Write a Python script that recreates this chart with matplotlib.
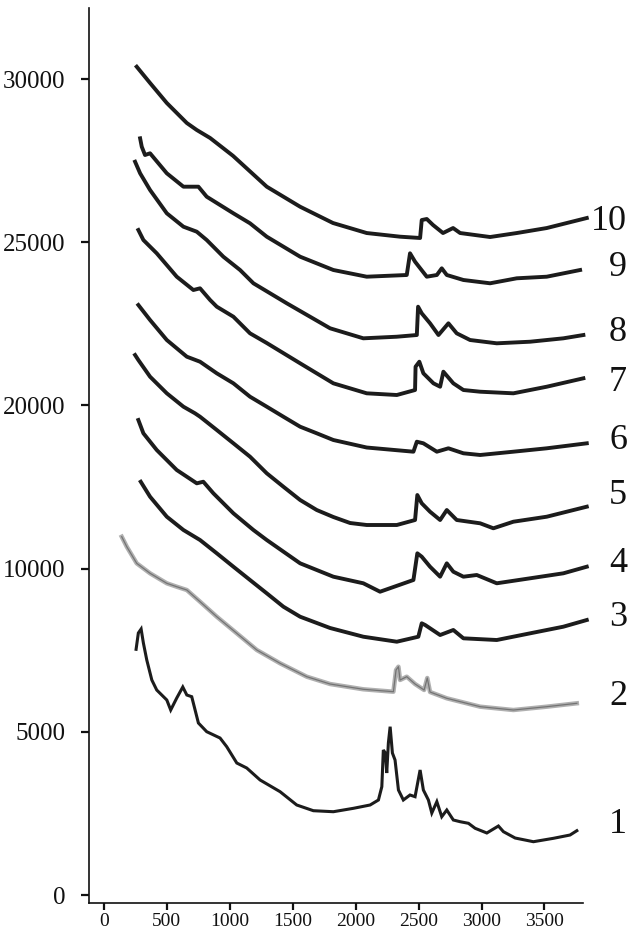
import matplotlib
matplotlib.use("Agg")
import matplotlib.pyplot as plt

# ---------------- data (wavenumber-like x, stacked intensity y) ----------------
x1 = [256, 274, 296, 314, 341, 381, 420, 500, 531, 579, 627, 659, 698, 751, 817, 923, 976,
      1056, 1135, 1241, 1400, 1532, 1664, 1823, 1982, 2115, 2181, 2208, 2220, 2236, 2247, 2260,
      2274, 2292, 2313, 2340, 2379, 2432, 2472, 2512, 2538, 2578, 2605, 2645, 2684, 2724, 2776,
      2830, 2896, 2949, 3042, 3134, 3174, 3267, 3412, 3571, 3703, 3757]
y1 = [7528, 8028, 8150, 7721, 7200, 6588, 6281, 5975, 5668, 6036, 6373, 6128, 6076, 5270, 5004,
      4810, 4544, 4044, 3891, 3524, 3165, 2758, 2583, 2552, 2656, 2758, 2911, 3318, 4443, 4351,
      3738, 4657, 5157, 4351, 4136, 3217, 2911, 3064, 3012, 3830, 3217, 2911, 2512, 2859, 2399,
      2604, 2298, 2246, 2197, 2044, 1900, 2114, 1940, 1746, 1633, 1737, 1838, 1970]

x2 = [142, 182, 261, 367, 500, 579, 659, 764, 897, 1056, 1215, 1400, 1612, 1797, 2061, 2300,
      2321, 2340, 2353, 2406, 2472, 2544, 2569, 2591, 2724, 2989, 3253, 3518, 3757]
y2 = [10978, 10672, 10163, 9857, 9551, 9446, 9345, 8987, 8527, 8018, 7507, 7099, 6689, 6465,
      6303, 6229, 6894, 6995, 6588, 6689, 6465, 6281, 6649, 6220, 6027, 5770, 5668, 5770, 5874]

x3 = [293, 367, 500, 632, 764, 897, 1029, 1161, 1294, 1426, 1559, 1797, 2061, 2327, 2498, 2525,
      2552, 2671, 2776, 2856, 3121, 3386, 3650, 3836]
y3 = [12663, 12204, 11591, 11184, 10877, 10470, 10059, 9652, 9244, 8834, 8527, 8181, 7914, 7761,
      7914, 8325, 8273, 7966, 8120, 7865, 7813, 8018, 8221, 8426]

x4 = [274, 314, 420, 579, 738, 790, 870, 1029, 1188, 1294, 1559, 1823, 2061, 2194, 2459, 2490,
      2525, 2591, 2671, 2724, 2776, 2856, 2962, 3121, 3386, 3650, 3836]
y4 = [14554, 14147, 13635, 13022, 12614, 12663, 12308, 11695, 11184, 10877, 10163, 9753, 9551,
      9293, 9652, 10470, 10366, 10059, 9753, 10163, 9906, 9753, 9805, 9551, 9704, 9857, 10059]

x5 = [248, 274, 367, 500, 632, 724, 764, 897, 1029, 1161, 1294, 1426, 1559, 1691, 1823, 1956,
      2088, 2327, 2472, 2490, 2525, 2591, 2671, 2724, 2803, 2989, 3094, 3253, 3518, 3836]
y5 = [16546, 16392, 15881, 15372, 14962, 14759, 14655, 14248, 13840, 13430, 12921, 12510, 12103,
      11796, 11582, 11398, 11337, 11337, 11490, 12256, 12002, 11744, 11490, 11796, 11490, 11389,
      11236, 11438, 11591, 11898]

x6 = [274, 367, 500, 659, 764, 897, 1029, 1161, 1294, 1426, 1559, 1691, 1823, 2088, 2459, 2486,
      2538, 2645, 2737, 2856, 2989, 3253, 3518, 3836]
y6 = [18078, 17618, 17005, 16494, 16340, 15985, 15678, 15268, 14962, 14655, 14349, 14147, 13941,
      13711, 13583, 13889, 13840, 13583, 13687, 13534, 13482, 13583, 13687, 13840]

x7 = [274, 314, 420, 579, 711, 764, 844, 897, 1029, 1161, 1294, 1559, 1823, 2088, 2327, 2472,
      2476, 2506, 2538, 2618, 2671, 2697, 2776, 2856, 2989, 3253, 3518, 3809]
y7 = [20376, 20069, 19662, 18945, 18537, 18589, 18231, 18026, 17719, 17210, 16913, 16291, 15678,
      15372, 15320, 15473, 16187, 16340, 15985, 15678, 15574, 16034, 15678, 15473, 15421, 15372,
      15574, 15832]

x8 = [248, 288, 367, 500, 632, 738, 817, 949, 1082, 1188, 1453, 1797, 2061, 2327, 2486, 2496,
      2525, 2591, 2658, 2737, 2803, 2909, 3121, 3386, 3650, 3809]
y8 = [22468, 22113, 21601, 20887, 20477, 20324, 20069, 19558, 19150, 18743, 18130, 17364, 17057,
      17106, 17158, 18026, 17823, 17517, 17158, 17517, 17210, 17005, 16904, 16953, 17057, 17158]

x9 = [288, 301, 327, 367, 500, 632, 751, 817, 1029, 1161, 1294, 1559, 1823, 2088, 2406, 2432,
      2472, 2565, 2645, 2684, 2724, 2856, 3068, 3280, 3518, 3783]
y9 = [23185, 22928, 22674, 22726, 22113, 21703, 21703, 21396, 20887, 20581, 20171, 19558, 19150,
      18945, 18997, 19662, 19404, 18945, 18997, 19202, 18997, 18844, 18743, 18896, 18945, 19150]

x10 = [261, 367, 500, 659, 738, 844, 1026, 1294, 1559, 1820, 2088, 2353, 2512, 2525, 2565, 2615,
       2694, 2774, 2830, 3068, 3280, 3518, 3836]
y10 = [25379, 24880, 24267, 23654, 23440, 23195, 22648, 21703, 21089, 20590, 20283, 20171, 20131,
       20681, 20713, 20528, 20283, 20436, 20283, 20161, 20283, 20436, 20743]

series_x = [x1, x2, x3, x4, x5, x6, x7, x8, x9, x10]
series_y = [y1, y2, y3, y4, y5, y6, y7, y8, y9, y10]
series_names = ["1", "2", "3", "4", "5", "6", "7", "8", "9", "10"]
label_y = [2175, 6067, 8518, 10172, 12256, 13941, 15688, 17220, 19242, 20621]

xticks = [0, 500, 1000, 1500, 2000, 2500, 3000, 3500]
xtick_labels = ["0", "500", "1000", "1500", "2000", "2500", "3000", "3500"]
ytick_pos = [0, 5000, 10000, 15000, 20000, 25000]
ytick_labels = ["0", "5000", "10000", "20000", "25000", "30000"]

# ---------------- figure ----------------
serif = ["Liberation Serif", "DejaVu Serif"]
fig = plt.figure(figsize=(6.4, 9.32), dpi=100)
ax = fig.add_axes([89 / 640, 29 / 932, (583 - 89) / 640, (903 - 8) / 932])

dark = "#1c1c1c"
for i, (xs, ys) in enumerate(zip(series_x, series_y)):
    if i == 0:
        ax.plot(xs, ys, color=dark, lw=2.2, clip_on=False, solid_joinstyle="miter")
    elif i == 1:
        ax.plot(xs, ys, color="#b0b0b0", lw=3.2, clip_on=False)
        ax.plot(xs, ys, color="#2a2a2a", lw=0.9, alpha=0.45, clip_on=False)
    else:
        ax.plot(xs, ys, color=dark, lw=2.8, clip_on=False)

label_x = 4156
for name, ly in zip(series_names, label_y):
    ax.text(label_x, ly, name, ha="right", va="center", fontsize=26,
            family=serif, color="#111111", clip_on=False)

ax.set_xlim(-118, 3806)
ax.set_ylim(-245, 27178)
ax.set_xticks(xticks)
ax.set_xticklabels(xtick_labels, family=serif, fontsize=14)
ax.set_yticks(ytick_pos)
ax.set_yticklabels(ytick_labels, family=serif, fontsize=18)

for side in ["top", "right"]:
    ax.spines[side].set_visible(False)
for side in ["left", "bottom"]:
    ax.spines[side].set_linewidth(1.2)
    ax.spines[side].set_color("#111111")

ax.tick_params(axis="y", direction="out", length=6, width=1.6, pad=11, colors="#111111")
ax.tick_params(axis="x", direction="out", length=5, width=1.6, pad=2.5, colors="#111111")

fig.savefig("out.png", dpi=100)
